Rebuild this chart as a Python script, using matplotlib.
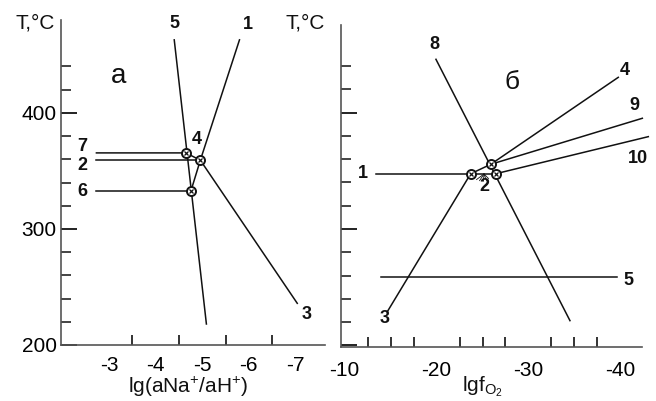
import matplotlib
matplotlib.use("Agg")
import matplotlib.pyplot as plt
import numpy as np

plt.rcParams['font.family'] = ['Liberation Sans', 'DejaVu Sans']
plt.rcParams['mathtext.fontset'] = 'custom'
plt.rcParams['mathtext.rm'] = 'Liberation Sans'
plt.rcParams['mathtext.it'] = 'Liberation Sans:italic'

## data: panel a, lg(aNa+/aH+) vs T ##

a_line5_x = [-4.40, -5.09]
a_line5_t = [462.9, 218.1]
a_line1_x = [-5.80, -4.96, -4.76]
a_line1_t = [462.9, 359.2, 333.0]
a_line3_x = [-4.96, -7.04]
a_line3_t = [359.2, 235.9]
a_line7_x = [-2.73, -4.65, -4.96]
a_line7_t = [365.5, 365.5, 359.2]
a_line2_x = [-2.73, -4.96]
a_line2_t = [359.2, 359.2]
a_line6_x = [-2.73, -4.76]
a_line6_t = [333.0, 333.0]
a_pts_x = [-4.65, -4.96, -4.76]
a_pts_t = [365.5, 359.2, 333.0]

a_labels = ['7', '2', '6', '4', '5', '1', '3']
a_label_x = [-2.43, -2.43, -2.43, -4.89, -4.40, -5.97, -7.24]
a_label_t = [370.7, 354.3, 331.9, 376.7, 476.7, 475.9, 225.9]

## data: panel b, lgfO2 vs T ##

b_line8_x = [-19.93, -34.52]
b_line8_t = [445.9, 221.2]
b_line1_x = [-13.37, -26.43]
b_line1_t = [347.5, 347.5]
b_line3_x = [-14.68, -23.71, -25.89]
b_line3_t = [229.5, 347.5, 355.6]
b_line4_x = [-25.89, -39.78]
b_line4_t = [355.6, 430.4]
b_line9_x = [-25.89, -42.40]
b_line9_t = [355.6, 395.2]
b_line10_x = [-26.43, -43.05]
b_line10_t = [347.5, 379.4]
b_line5_x = [-13.94, -39.63]
b_line5_t = [258.7, 258.7]
b_pts_x = [-23.71, -25.89, -26.43]
b_pts_t = [347.5, 355.6, 347.5]
# small fan of strokes under label 2
b_fan_x = [-24.35, -24.68, -25.10, -25.43, -25.65]
b_fan_t = [342.5, 341.6, 341.2, 341.6, 343.4]
b_fan_origin = (-25.16, 347.3)

b_labels = ['8', '4', '9', '10', '1', '3', '5', '2']
b_label_x = [-19.72, -40.5, -41.5, -41.96, -12.02, -14.38, -40.87, -25.16]
b_label_t = [458.3, 436.7, 406.6, 360.8, 347.3, 223.2, 256.1, 336.4]

t_major = [200, 300, 400]
t_minor = [220, 240, 260, 280, 320, 340, 360, 380, 420, 440]
a_xticks = [-3, -4, -5, -6, -7]
a_xminor = [-3, -3.5, -4, -4.5, -5, -5.5, -6, -6.5, -7]
b_xticks = [-10, -20, -30, -40]
b_xminor = [-12.5, -15, -17.5, -20, -22.5, -25, -27.5, -30, -32.5, -35, -37.5, -40]

ink = '#111111'
spine_c = '#555555'
lw = 1.1

fig = plt.figure(figsize=(6.56, 4.01), dpi=100)
ax1 = fig.add_axes([61/656, (401-345)/401, (325-61)/656, (345-20)/401])
ax2 = fig.add_axes([340.7/656, (401-346.7)/401, (641.7-340.7)/656, (346.7-25)/401])

for ax in [ax1, ax2]:
    ax.spines['top'].set_visible(False)
    ax.spines['right'].set_visible(False)
    ax.spines['left'].set_color(spine_c)
    ax.spines['bottom'].set_color(spine_c)
    ax.spines['left'].set_linewidth(1.2)
    ax.spines['bottom'].set_linewidth(1.2)
    ax.set_yticks(t_major)
    ax.set_yticks(t_minor, minor=True)
    ax.tick_params(axis='y', which='major', direction='in', length=11.5, width=1.3, color=ink, labelsize=15, pad=3)
    ax.tick_params(axis='y', which='minor', direction='in', length=7, width=1.1, color=ink)
    ax.tick_params(axis='x', which='major', direction='in', length=0, labelsize=15)
    ax.tick_params(axis='x', which='minor', direction='in', length=7.5, width=1.2, color=ink)

ax1.set_xlim(-1.97, -7.635)
ax1.set_ylim(200, 480)
ax1.set_xticks(a_xticks)
ax1.set_xticks(a_xminor, minor=True)
ax1.set_xticklabels([str(v) for v in a_xticks])
ax1.tick_params(axis='x', which='major', pad=8)

ax2.set_xlim(-9.56, -42.33)
ax2.set_ylim(198.8, 475.4)
ax2.set_xticks(b_xticks)
ax2.set_xticks(b_xminor, minor=True)
ax2.set_xticklabels([str(v) for v in b_xticks])
ax2.tick_params(axis='x', which='major', pad=10)
ax2.set_yticklabels([])

# panel a
for xs, ts in [(a_line5_x, a_line5_t), (a_line1_x, a_line1_t), (a_line3_x, a_line3_t),
               (a_line7_x, a_line7_t), (a_line2_x, a_line2_t), (a_line6_x, a_line6_t)]:
    ax1.plot(xs, ts, color=ink, lw=lw, clip_on=False)
ax1.plot(a_pts_x, a_pts_t, 'o', mfc='white', mec=ink, ms=6.5, mew=1.4, clip_on=False, zorder=3)
ax1.plot(a_pts_x, a_pts_t, 'x', color=ink, ms=3.5, mew=0.9, clip_on=False, zorder=4)
for s, x, t in zip(a_labels, a_label_x, a_label_t):
    ax1.text(x, t, s, fontsize=13, fontweight='bold', ha='center', va='center', color=ink)
ax1.text(-3.21, 431.9, 'a', fontsize=20, ha='center', va='center', color=ink)

# panel b
for xs, ts in [(b_line8_x, b_line8_t), (b_line1_x, b_line1_t), (b_line3_x, b_line3_t),
               (b_line4_x, b_line4_t), (b_line9_x, b_line9_t), (b_line10_x, b_line10_t),
               (b_line5_x, b_line5_t)]:
    ax2.plot(xs, ts, color=ink, lw=lw, clip_on=False)
for fx, ft in zip(b_fan_x, b_fan_t):
    ax2.plot([b_fan_origin[0], fx], [b_fan_origin[1], ft], color=ink, lw=0.6)
ax2.plot(b_pts_x, b_pts_t, 'o', mfc='white', mec=ink, ms=6.5, mew=1.4, clip_on=False, zorder=3)
ax2.plot(b_pts_x, b_pts_t, 'x', color=ink, ms=3.5, mew=0.9, clip_on=False, zorder=4)
for s, x, t in zip(b_labels, b_label_x, b_label_t):
    ax2.text(x, t, s, fontsize=13, fontweight='bold', ha='center', va='center', color=ink)
ax2.text(-28.24, 426.7, 'б', fontsize=19, ha='center', va='center', color=ink)

# axis titles
fig.text(15/656, 1 - 23/401, 'T,°C', fontsize=15, ha='left', va='center', color=ink)
fig.text(325/656, 1 - 23/401, 'T,°C', fontsize=15, ha='right', va='center', color=ink)
fig.text(188/656, 1 - 393/401, r'lg(aNa$^{+}$/aH$^{+}$)', fontsize=15, ha='center', va='baseline', color=ink)
fig.text(482/656, 1 - 391/401, r'lgf$_{\mathregular{O_2}}$', fontsize=15, ha='center', va='baseline', color=ink)

fig.savefig('out.png', dpi=100)
